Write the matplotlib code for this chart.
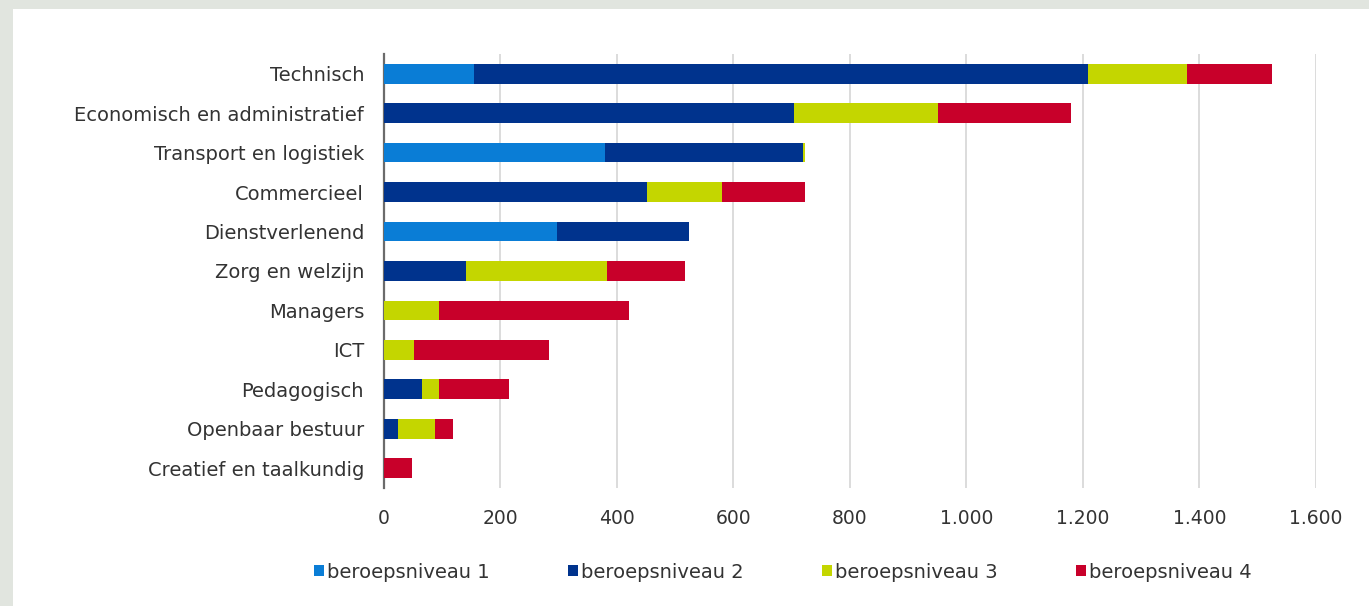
import numpy as np
import matplotlib.pyplot as plt
from matplotlib.patches import Patch
from matplotlib.ticker import FuncFormatter

# beroepsgroepen, van boven naar beneden
groepen = ['Technisch', 'Economisch en administratief', 'Transport en logistiek',
           'Commercieel', 'Dienstverlenend', 'Zorg en welzijn', 'Managers', 'ICT',
           'Pedagogisch', 'Openbaar bestuur', 'Creatief en taalkundig']

niveau1 = [155, 0, 380, 0, 298, 0, 0, 0, 0, 0, 0]
niveau2 = [1054, 704, 339, 452, 227, 142, 0, 0, 66, 25, 0]
niveau3 = [170, 248, 4, 129, 0, 242, 96, 53, 29, 63, 0]
niveau4 = [146, 227, 0, 142, 0, 133, 326, 231, 120, 31, 49]

reeksen = ['beroepsniveau 1', 'beroepsniveau 2', 'beroepsniveau 3', 'beroepsniveau 4']
kleuren = ['#0a7dd6', '#00338d', '#c4d600', '#c8002a']

fig = plt.figure(figsize=(13.69, 6.06), dpi=100)
fig.patch.set_facecolor('#e1e5df')
# witte achtergrond van het kader
fig.add_artist(plt.Rectangle((13/1369, 0), 1, 1 - 9/606, transform=fig.transFigure,
                             facecolor='white', edgecolor='none', zorder=0))

ax = fig.add_axes([383.5/1369, 1 - 488/606, (1316 - 383.5)/1369, (488 - 54)/606])
ax.set_facecolor('none')

y = np.arange(len(groepen))
links = np.zeros(len(groepen))
for waarden, naam, kleur in zip([niveau1, niveau2, niveau3, niveau4], reeksen, kleuren):
    w = np.array(waarden, dtype=float)
    ax.barh(y, w, left=links, height=0.5, color=kleur, label=naam, zorder=3)
    links += w

ax.set_ylim(len(groepen) - 0.5, -0.5)
ax.set_xlim(0, 1600)
ax.set_xticks(np.arange(0, 1601, 200))
ax.xaxis.set_major_formatter(FuncFormatter(lambda v, p: f'{int(v):,}'.replace(',', '.')))
ax.set_yticks(y)
ax.set_yticklabels(groepen)
ax.grid(axis='x', color='#d6d6d6', linewidth=1.2, zorder=0)
for s in ['top', 'right', 'bottom']:
    ax.spines[s].set_visible(False)
ax.spines['left'].set_color('#6b6b6b')
ax.spines['left'].set_linewidth(1.6)
ax.tick_params(axis='x', length=0, pad=15, labelsize=13.5, labelcolor='#333333')
ax.tick_params(axis='y', length=0, pad=14, labelsize=14, labelcolor='#333333')

handles = [Patch(facecolor=k, edgecolor='none') for k in kleuren]
fig.legend(handles, reeksen, loc='center left', bbox_to_anchor=(296/1369, 1 - 572/606),
           ncol=4, frameon=False, fontsize=14, handlelength=0.55, handleheight=0.55,
           handletextpad=0.15, columnspacing=4.0, labelcolor='#333333')

fig.savefig('out.png', dpi=100, facecolor=fig.get_facecolor())
